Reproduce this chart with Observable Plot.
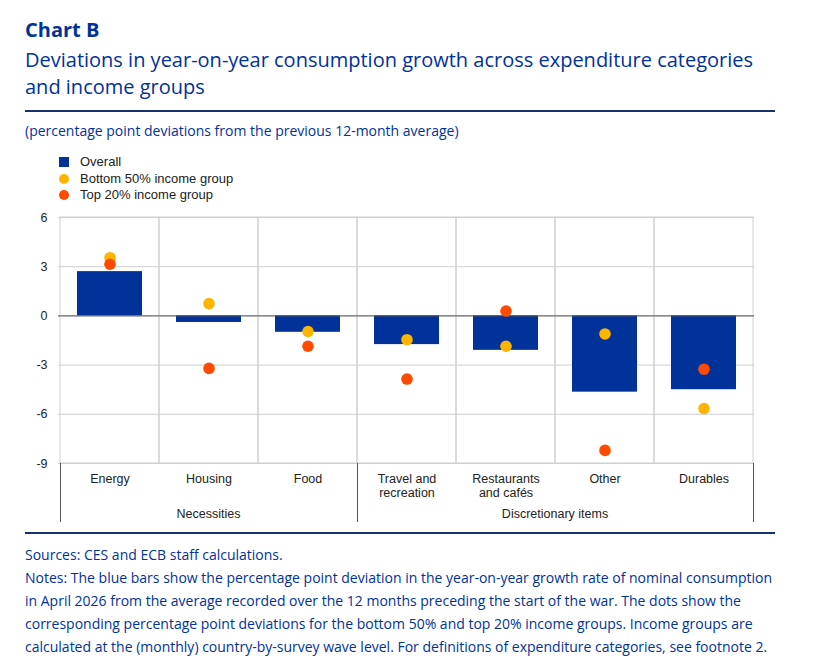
<!DOCTYPE html>
<html>
<head>
<meta charset="utf-8">
<script src="https://cdn.jsdelivr.net/npm/d3@7"></script>
<script src="https://cdn.jsdelivr.net/npm/@observablehq/plot@0.6"></script>
<style>
  html, body { margin: 0; padding: 0; background: #fff; }
  body { width: 820px; height: 671px; position: relative; font-family: "Open Sans", sans-serif; color: #003299; overflow: hidden; }
  .abs { position: absolute; white-space: nowrap; }
  #title { left: 25px; top: 19px; font-size: 20px; line-height: 22px; font-weight: 700; }
  #subtitle { left: 25px; top: 46px; font-size: 20px; line-height: 27px; }
  .rule { position: absolute; left: 25px; width: 750px; height: 2px; background: #17306b; }
  #units { left: 25px; top: 122px; font-size: 14px; line-height: 18px; }
  .leg { position: absolute; left: 80px; font-family: "Liberation Sans", Arial, sans-serif; font-size: 13px; line-height: 14px; color: #222; white-space: nowrap; }
  .sw { position: absolute; left: 59px; width: 10px; height: 10px; }
  #chart { position: absolute; left: 0; top: 205px; }
  #foot { left: 25px; top: 543px; font-size: 14px; line-height: 23px; }
</style>
</head>
<body>
<div id="title" class="abs">Chart B</div>
<div id="subtitle" class="abs">Deviations in year-on-year consumption growth across expenditure categories<br>and income groups</div>
<div class="rule" style="top:110px"></div>
<div id="units" class="abs">(percentage point deviations from the previous 12-month average)</div>
<div id="legend"></div>
<div id="chart"></div>
<div class="rule" style="top:532px"></div>
<div id="foot" class="abs">Sources: CES and ECB staff calculations.<br>Notes: The blue bars show the percentage point deviation in the year-on-year growth rate of nominal consumption<br>in April 2026 from the average recorded over the 12 months preceding the start of the war. The dots show the<br>corresponding percentage point deviations for the bottom 50% and top 20% income groups. Income groups are<br>calculated at the (monthly) country-by-survey wave level. For definitions of expenditure categories, see footnote 2.</div>
<script>
// ---- data ----
const categories = ["Energy", "Housing", "Food", "Travel and\nrecreation", "Restaurants\nand cafés", "Other", "Durables"];
const categoryGroup = ["Necessities", "Necessities", "Necessities", "Discretionary items", "Discretionary items", "Discretionary items", "Discretionary items"];
const groupNames = ["Necessities", "Discretionary items"];
const overall = [2.7, -0.4, -1.0, -1.75, -2.1, -4.65, -4.5];
const bottom50 = [3.55, 0.75, -0.95, -1.45, -1.85, -1.1, -5.65];
const top20 = [3.15, -3.2, -1.85, -3.85, 0.3, -8.2, -3.25];
const yTicks = [-9, -6, -3, 0, 3, 6];
const seriesNames = ["Overall", "Bottom 50% income group", "Top 20% income group"];
const seriesColors = ["#003299", "#FFB400", "#FF4B00"];

// ---- legend ----
const legend = document.getElementById("legend");
const legTops = [155, 172, 188];
seriesNames.forEach((name, i) => {
  const sw = document.createElement("div");
  sw.className = "sw";
  sw.style.top = (legTops[i] + 2) + "px";
  sw.style.background = seriesColors[i];
  if (i > 0) sw.style.borderRadius = "50%";
  legend.appendChild(sw);
  const t = document.createElement("div");
  t.className = "leg";
  t.style.top = legTops[i] + "px";
  t.textContent = name;
  legend.appendChild(t);
});

// ---- chart ----
const idx = categories.map((_, i) => i);
const yMin = yTicks[0], yMax = yTicks[yTicks.length - 1];
const FS = 12.5;

function groupAxis(index, scales, values, dimensions) {
  const x = scales.x, y = scales.y;
  const bw = x(categories[1]) - x(categories[0]);
  const y0 = y(yMin);
  const yEnd = dimensions.height - 3;
  const g = d3.create("svg:g");
  const edges = new Set();
  groupNames.forEach(gn => {
    const members = categories.filter((c, i) => categoryGroup[i] === gn);
    const left = x(members[0]);
    const right = x(members[members.length - 1]) + bw;
    edges.add(left); edges.add(right);
    g.append("text")
      .attr("x", (left + right) / 2)
      .attr("y", y0 + 46)
      .attr("dy", "0.71em")
      .attr("text-anchor", "middle")
      .attr("fill", "#222")
      .attr("font-size", FS)
      .text(gn);
  });
  edges.forEach(e => {
    g.append("line")
      .attr("x1", Math.round(e) + 0.5).attr("x2", Math.round(e) + 0.5)
      .attr("y1", y0).attr("y2", yEnd)
      .attr("stroke", "#555").attr("stroke-width", 1);
  });
  return g.node();
}

const chart = Plot.plot({
  width: 820,
  height: 320,
  marginTop: 12,
  marginBottom: 62,
  marginLeft: 58,
  marginRight: 66,
  style: { fontFamily: "'Liberation Sans', Arial, sans-serif", fontSize: FS + "px", color: "#222", background: "transparent" },
  x: { domain: categories, padding: 0, axis: null },
  y: { domain: [yMin, yMax], ticks: yTicks, axis: null },
  marks: [
    Plot.gridY(yTicks, { stroke: "#cfcfcf", strokeOpacity: 1 }),
    Plot.barY(categories, { x: d => d, y1: yMin, y2: yMax, fill: "none", stroke: "#cfcfcf" }),
    Plot.barY(idx, { x: i => categories[i], y: i => overall[i], fill: seriesColors[0], insetLeft: 17, insetRight: 17 }),
    Plot.ruleY([0], { stroke: "#555" }),
    Plot.dot(idx, { x: i => categories[i], y: i => bottom50[i], r: 5.8, fill: seriesColors[1] }),
    Plot.dot(idx, { x: i => categories[i], y: i => top20[i], r: 5.8, fill: seriesColors[2] }),
    Plot.axisY(yTicks, { tickSize: 0, tickPadding: 11, fontSize: FS, fill: "#222", label: null, tickFormat: d => String(d) }),
    Plot.text(categories, { x: d => d, y: yMin, text: d => d, dy: 9, lineAnchor: "top", lineHeight: 1.13, fontSize: FS, fill: "#222" }),
    groupAxis
  ]
});
document.getElementById("chart").appendChild(chart);
</script>
</body>
</html>
